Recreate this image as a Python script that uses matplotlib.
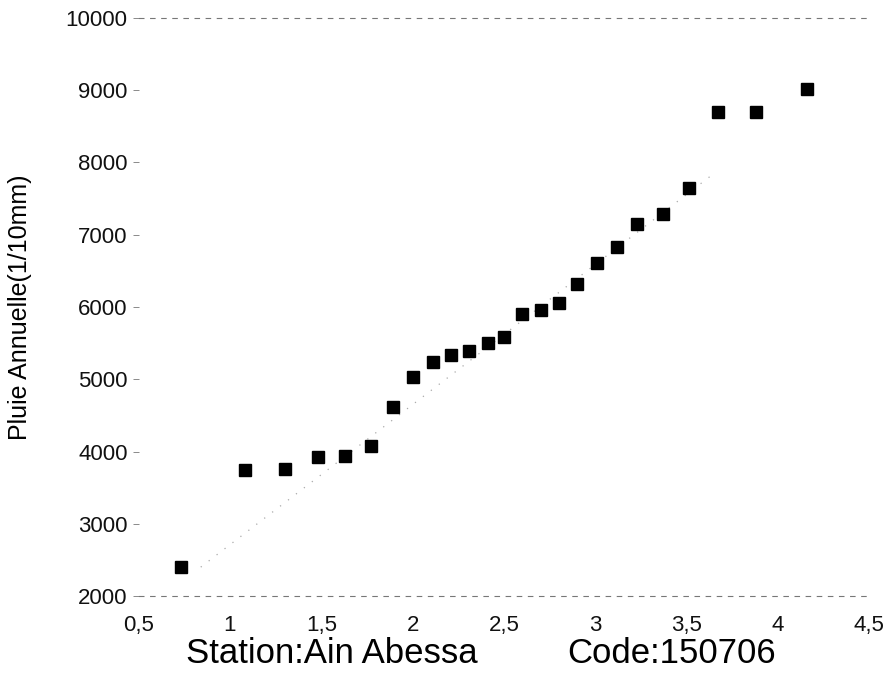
import matplotlib
matplotlib.use("Agg")
import matplotlib.pyplot as plt

# ── Data ────────────────────────────────────────────────────────────────────
reduced_var = [0.73, 1.08, 1.30, 1.48, 1.63, 1.77, 1.89, 2.00, 2.11, 2.21,
               2.31, 2.41, 2.50, 2.60, 2.70, 2.80, 2.90, 3.01, 3.12, 3.23,
               3.37, 3.51, 3.67, 3.88, 4.16]
pluie = [2400, 3745, 3760, 3925, 3940, 4075, 4615, 5030, 5240, 5335,
         5390, 5500, 5585, 5900, 5960, 6055, 6320, 6610, 6830, 7150,
         7290, 7650, 8700, 8700, 9020]

# faint fitted line visible in the scan
fit_x = [0.84, 3.65]
fit_y = [2400, 7850]

x_ticks = [0.5, 1, 1.5, 2, 2.5, 3, 3.5, 4, 4.5]
x_labels = ['0,5', '1', '1,5', '2', '2,5', '3', '3,5', '4', '4,5']
y_ticks = [2000, 3000, 4000, 5000, 6000, 7000, 8000, 9000, 10000]

plt.rcParams['font.family'] = ['Liberation Sans', 'DejaVu Sans']

fig = plt.figure(figsize=(8.92, 6.78), dpi=100)
ax = fig.add_axes([0.1554, 0.1209, 0.8193, 0.8526])

ax.plot(fit_x, fit_y, linestyle=(0, (1, 7)), color='#aaaaaa', linewidth=0.9)
ax.plot(reduced_var, pluie, linestyle='none', marker='s', markersize=8.5,
        color='black')

ax.set_xlim(0.5, 4.5)
ax.set_ylim(2000, 10000)
ax.set_xticks(x_ticks)
ax.set_xticklabels(x_labels)
ax.set_yticks(y_ticks)
ax.tick_params(axis='both', labelsize=16, colors='#111111')
ax.tick_params(axis='x', length=0, pad=14)
ax.tick_params(axis='y', length=4, width=0.6, color='#777777', pad=4)

# broken, faint frame like the photocopy
for side in ['left', 'right']:
    ax.spines[side].set_visible(False)
for side in ['top', 'bottom']:
    ax.spines[side].set_linestyle((0, (4, 6)))
    ax.spines[side].set_color('#777777')
    ax.spines[side].set_linewidth(0.8)

ax.set_ylabel('Pluie Annuelle(1/10mm)', fontsize=18, labelpad=24)
fig.text(0.372, 0.022, 'Station:Ain Abessa', fontsize=25, ha='center')
fig.text(0.753, 0.022, 'Code:150706', fontsize=25, ha='center')

fig.savefig('out.png', dpi=100)
